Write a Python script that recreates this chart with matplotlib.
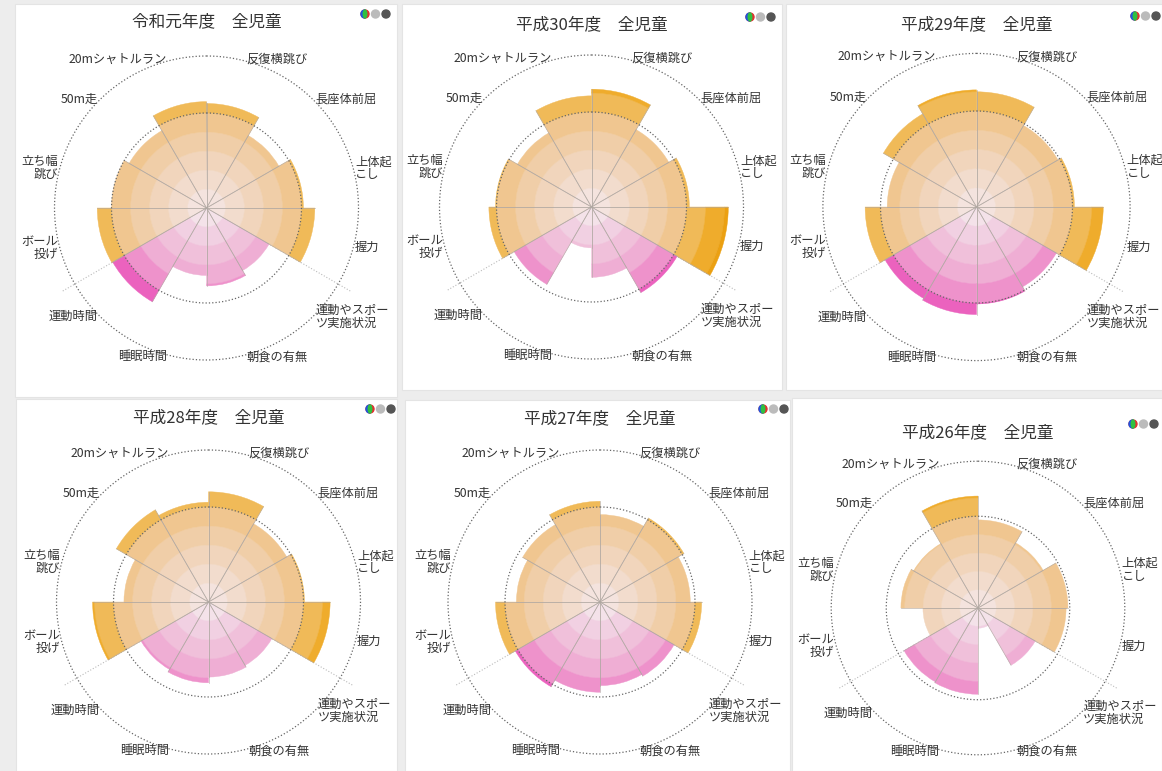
import numpy as np
import matplotlib
matplotlib.use("Agg")
import matplotlib.pyplot as plt
from matplotlib.patches import Rectangle, Circle, Wedge, Ellipse

plt.rcParams['font.family'] = ['Noto Sans CJK JP', 'DejaVu Sans']

# sectors clockwise from north, each 30 degrees
categories = ['反復横跳び', '長座体前屈', '上体起\nこし', '握力', '運動やスポー\nツ実施状況',
              '朝食の有無', '睡眠時間', '運動時間', 'ボール\n投げ', '立ち幅\n跳び', '50m走',
              '20mシャトルラン']
groups = ['fit'] * 4 + ['life'] * 4 + ['fit'] * 4

titles = ['令和元年度\u3000全児童', '平成30年度\u3000全児童', '平成29年度\u3000全児童',
          '平成28年度\u3000全児童', '平成27年度\u3000全児童', '平成26年度\u3000全児童']

values_r1 = [55, 44, 51, 57, 38, 41, 35.5, 57, 57.5, 50, 47, 56]
values_h30 = [62, 47, 51.5, 72, 52, 37, 21.5, 47, 54, 50.5, 45, 58.5]
values_h29 = [60, 49, 51, 66, 48, 50.5, 56, 55, 58, 46.5, 56, 61]
values_h28 = [58, 47.5, 50.5, 64, 38.5, 39.5, 42.5, 41, 61, 44.5, 56, 52.5]
values_h27 = [46, 51, 47.5, 53.5, 45, 44, 47.5, 51.5, 55, 44, 47, 53]
values_h26 = [48, 41, 49, 48, 36, 11, 47, 46.5, 30, 42, 40.5, 61]
all_values = [values_r1, values_h30, values_h29, values_h28, values_h27, values_h26]

band_edges = [0, 10, 20, 30, 40, 50, 60, 70, 80]
orange_bands = ['#F4E3DE', '#F2DCCD', '#F1D5BC', '#F0CEA8', '#F0C690', '#F0BA58', '#EFAC2C', '#EBA012']
pink_bands = ['#F4E2E9', '#F1D0E2', '#F0C0DA', '#EFAED4', '#EE92CB', '#EB62BE', '#E64AB4', '#DE30A8']

# layout in pixels (figure 1162 x 771)
W, H = 1162, 771
centers = [(206.5, 208), (591.5, 207), (976.5, 207), (208.5, 602), (600, 602), (978, 608)]
px_per_unit = [1.9, 1.9, 1.92, 1.9, 1.9, 1.835]
title_y = [22, 25, 25, 418, 419, 433]
panels = [(15, 4, 397, 397), (402, 4, 782, 390), (786, 4, 1162, 390),
          (16, 399, 397, 771), (405, 400, 790, 771), (792, 398, 1162, 771)]
icons_x = [365, 750, 1135, 370, 763, 1133]
icons_y = [14, 17, 16, 409, 409, 424]

fig = plt.figure(figsize=(W / 100, H / 100), dpi=100)
fig.patch.set_facecolor('#EDEDED')

bg = fig.add_axes([0, 0, 1, 1])
bg.set_xlim(0, W)
bg.set_ylim(H, 0)
bg.axis('off')

for k, (x0, y0, x1, y1) in enumerate(panels):
    bg.add_patch(Rectangle((x0, y0), x1 - x0, y1 - y0, facecolor='white', edgecolor='#E4E4E4', lw=0.8))
    cx, cy = centers[k]
    bg.text(cx, title_y[k], titles[k], ha='center', va='center', fontsize=12, color='#333333')
    ix, iy = icons_x[k], icons_y[k]
    bg.add_patch(Circle((ix, iy), 4, color='#E03030'))
    bg.add_patch(Wedge((ix, iy), 4, 90, 270, color='#2255DD'))
    bg.add_patch(Ellipse((ix, iy), 3.5, 8, color='#30C040'))
    bg.add_patch(Circle((ix + 10.5, iy), 4, color='#BBBBBB'))
    bg.add_patch(Circle((ix + 21, iy), 4, color='#555555'))

n = len(categories)
step = 2 * np.pi / n
theta = np.arange(n) * step + step / 2
ring = np.linspace(0, 2 * np.pi, 400)

for k, vals in enumerate(all_values):
    vals = np.array(vals, dtype=float)
    cx, cy = centers[k]
    half = 100 * px_per_unit[k]
    ax = fig.add_axes([(cx - half) / W, (H - cy - half) / H, 2 * half / W, 2 * half / H], projection='polar')
    ax.set_theta_zero_location('N')
    ax.set_theta_direction(-1)
    ax.set_ylim(0, 100)
    ax.set_facecolor('none')
    ax.grid(False)
    ax.set_xticks([])
    ax.set_yticks([])
    ax.spines['polar'].set_visible(False)

    # group separators
    for a in (4 * step, 8 * step):
        ax.plot([a, a], [0, 88], color='#BBBBBB', ls=':', lw=0.8, zorder=1)

    for b in range(len(band_edges) - 1):
        lo, hi = band_edges[b], band_edges[b + 1]
        h = np.clip(vals - lo, 0, hi - lo)
        keep = h > 0
        if not keep.any():
            continue
        colors = [orange_bands[b] if g == 'fit' else pink_bands[b] for g in groups]
        colors = [c for c, m in zip(colors, keep) if m]
        ax.bar(theta[keep], h[keep], width=step, bottom=lo, color=colors, edgecolor=colors,
               linewidth=0.3, zorder=2)

    for i, v in enumerate(vals):
        for a in (i * step, (i + 1) * step):
            ax.plot([a, a], [0, v], color='#B0A8A2', lw=0.5, alpha=0.8, zorder=3)

    ax.plot(ring, np.full_like(ring, 50), color='#666666', ls=':', lw=0.9, zorder=4)
    ax.plot(ring, np.full_like(ring, 80), color='#666666', ls=':', lw=0.9, zorder=4)

    for i, lab in enumerate(categories):
        ang = np.degrees(theta[i])
        ha = 'left' if ang < 180 else 'right'
        ax.text(theta[i], 81, lab, ha=ha, va='center', multialignment=ha, fontsize=8.8,
                color='#333333', linespacing=1.0, clip_on=False, zorder=5)

fig.savefig('out.png', dpi=100, facecolor=fig.get_facecolor())
